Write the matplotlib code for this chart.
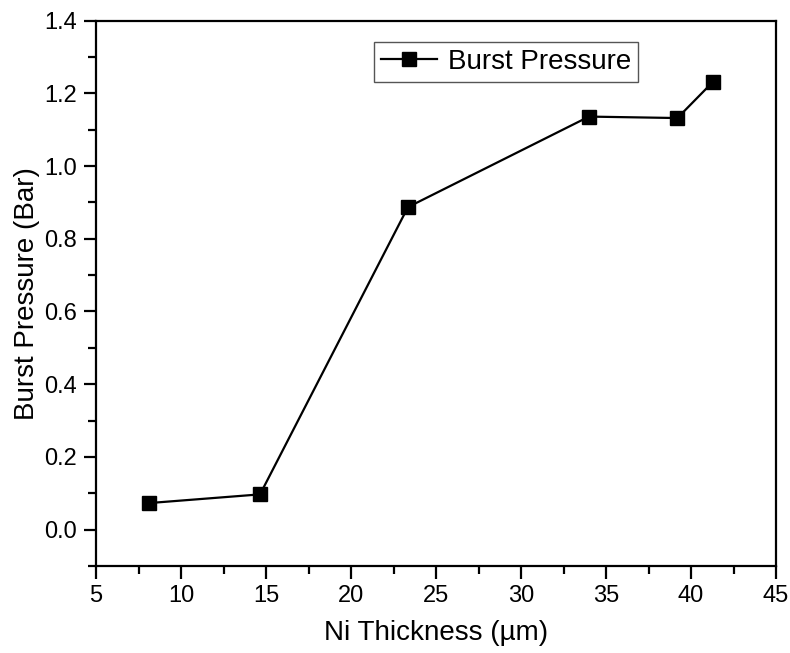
import matplotlib

matplotlib.use("Agg")
import matplotlib.pyplot as plt
from matplotlib.ticker import MultipleLocator

# --- data ----------------------------------------------------------------
thickness = [8.1, 14.65, 23.35, 34.0, 39.2, 41.3]      # Ni thickness (um)
burst = [0.073, 0.097, 0.887, 1.136, 1.132, 1.232]      # burst pressure (bar)

plt.rcParams.update({
    "font.family": ["Liberation Sans", "DejaVu Sans"],
    "font.size": 17,
    "axes.linewidth": 1.6,
})

fig = plt.figure(figsize=(7.9, 6.53), dpi=100)
ax = fig.add_axes([96 / 790, 1 - 566 / 653, 680 / 790, (566 - 20.6) / 653])

ax.plot(thickness, burst, color="black", lw=1.6, marker="s", ms=10,
        label="Burst Pressure")

ax.set_xlim(5, 45)
ax.set_ylim(-0.1, 1.4)
ax.xaxis.set_major_locator(MultipleLocator(5))
ax.xaxis.set_minor_locator(MultipleLocator(2.5))
ax.yaxis.set_major_locator(MultipleLocator(0.2))
ax.yaxis.set_minor_locator(MultipleLocator(0.1))
ax.yaxis.set_major_formatter(lambda v, _: f"{v:.1f}")
ax.tick_params(which="major", direction="out", length=9, width=1.6,
               labelsize=17, pad=5)
ax.tick_params(which="minor", direction="out", length=5.5, width=1.6)

ax.set_xlabel("Ni Thickness (µm)", fontsize=20, labelpad=9)
ax.set_ylabel("Burst Pressure (Bar)", fontsize=20, labelpad=3)

leg = ax.legend(loc="upper left", bbox_to_anchor=(374 / 790, 1 - 41.7 / 653),
                bbox_transform=fig.transFigure, borderaxespad=0, fontsize=20,
                fancybox=False, framealpha=1, edgecolor="#555555",
                handlelength=2.0, handletextpad=0.4, borderpad=0.25)
leg.get_frame().set_linewidth(1.0)

fig.savefig("out.png", dpi=100)
